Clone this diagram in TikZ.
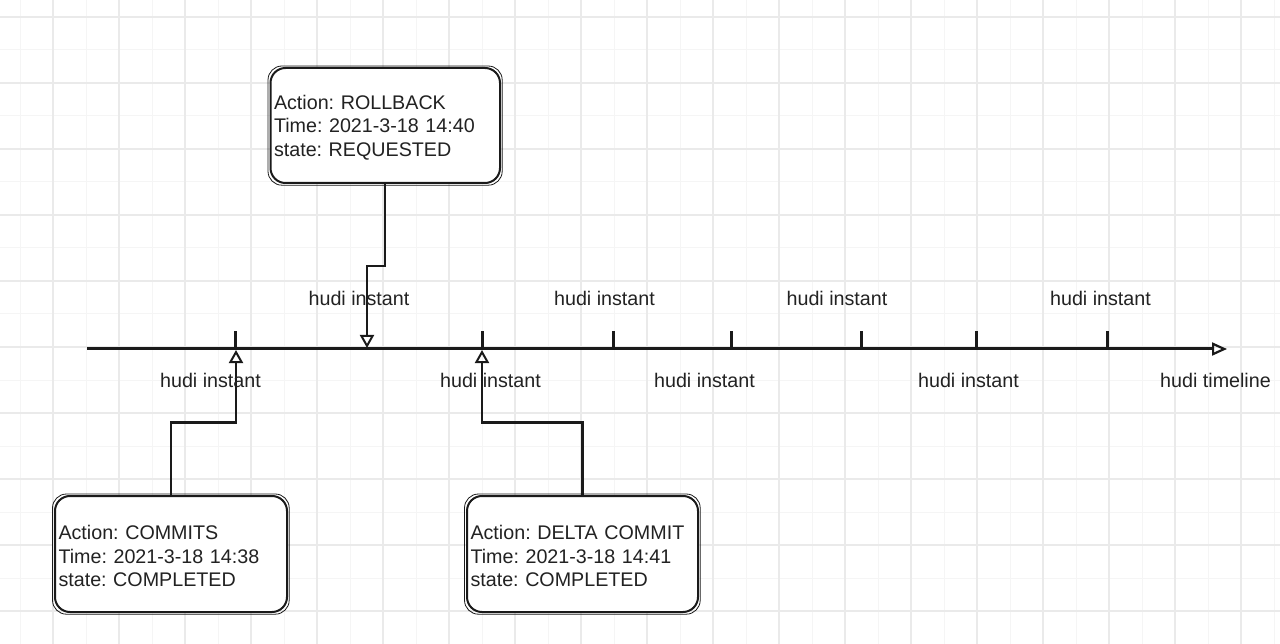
\documentclass[tikz,border=0pt]{standalone}
\usepackage{fontspec}
\setmainfont{Liberation Sans}
\usetikzlibrary{arrows.meta,calc}
\definecolor{ink}{HTML}{1A1A1A}
\definecolor{txt}{HTML}{222222}
\definecolor{gridmaj}{HTML}{EAEAEA}
\definecolor{gridmin}{HTML}{F5F5F5}
\frenchspacing
\begin{document}
\begin{tikzpicture}[x=1pt,y=-1pt,
  every node/.style={font=\fontsize{19.7}{23.3}\selectfont, text=txt},
  infobox/.style={draw=ink, line width=2pt, fill=white, rounded corners=15pt,
    anchor=north west, align=left, inner xsep=3.5pt, inner ysep=0pt,
    execute at begin node=\rule{0pt}{18.6pt}},
  sketch/.style={draw=ink, line width=0.8pt, rounded corners=14pt},
  conn/.style={draw=ink, line width=2.2pt,
    -{Triangle[open,length=13pt,width=14pt,line width=2pt]}},
  timeline/.style={draw=ink, line width=3pt,
    -{Triangle[open,length=15pt,width=13pt,line width=2.2pt]}},
  tickmark/.style={draw=ink, line width=3pt},
  lbl/.style={anchor=base},
  gmin/.style={draw=gridmin, line width=1pt},
  gmaj/.style={draw=gridmaj, line width=1.2pt}]
\useasboundingbox (0,0) rectangle (1280,644);
\fill[white] (0,0) rectangle (1280,644);
% grid
\foreach \x in {20,86,...,1280} \draw[gmin] (\x,0) -- (\x,644);
\foreach \y in {50,116,...,644} \draw[gmin] (0,\y) -- (1280,\y);
\foreach \x in {53,119,...,1280} \draw[gmaj] (\x,0) -- (\x,644);
\foreach \y in {17,83,...,644} \draw[gmaj] (0,\y) -- (1280,\y);

% timeline
\coordinate (t0) at (87,349);
\coordinate (t1) at (1227,349);
\draw[timeline] (t0) -- (t1);
\foreach \x [count=\i] in {235,482,613,731,861,976,1107} {
  \coordinate (k\i) at (\x,349);
  \draw[tickmark] (k\i) -- ++(0,-18);
}

% boxes
\node[infobox, text width=222.5pt, minimum height=115pt] (rb) at (269.5,67)
  {Action: ROLLBACK\\Time: 2021-3-18 14:40\\state: REQUESTED};
\node[infobox, text width=225pt, minimum height=116pt] (cm) at (54,495)
  {Action: COMMITS\\Time: 2021-3-18 14:38\\state: COMPLETED};
\node[infobox, text width=224pt, minimum height=116pt] (dc) at (466,495)
  {Action: DELTA COMMIT\\Time: 2021-3-18 14:41\\state: COMPLETED};
\foreach \b in {rb,cm,dc}
  \draw[sketch] ([shift={(-1.5,-1)}]\b.north west) rectangle ([shift={(1.2,1.2)}]\b.south east);

% connectors
\coordinate (a1) at (236,350);
\coordinate (a2) at (367,348);
\coordinate (a3) at (482,350);
\draw[conn] (cm.north) |- ($(cm.north)!.5!(a1)$) -| (a1);
\draw[conn] (rb.south) |- ($(rb.south)!.5!(a2)$) -| (a2);
\draw[conn] (dc.north) |- ($(dc.north)!.5!(a3)$) -| (a3);

% labels
\node[lbl] (u1) at (359,306) {hudi instant};
\node[lbl] (u2) at (604.5,306) {hudi instant};
\node[lbl] (u3) at (837,306) {hudi instant};
\node[lbl] (u4) at (1100.5,306) {hudi instant};
\node[lbl] (d1) at (210.5,388) {hudi instant};
\node[lbl] (d2) at (490.5,388) {hudi instant};
\node[lbl] (d3) at (704.5,388) {hudi instant};
\node[lbl] (d4) at (968.5,388) {hudi instant};
\node[lbl] (tl) at (1215.5,388) {hudi timeline};
\end{tikzpicture}
\end{document}
